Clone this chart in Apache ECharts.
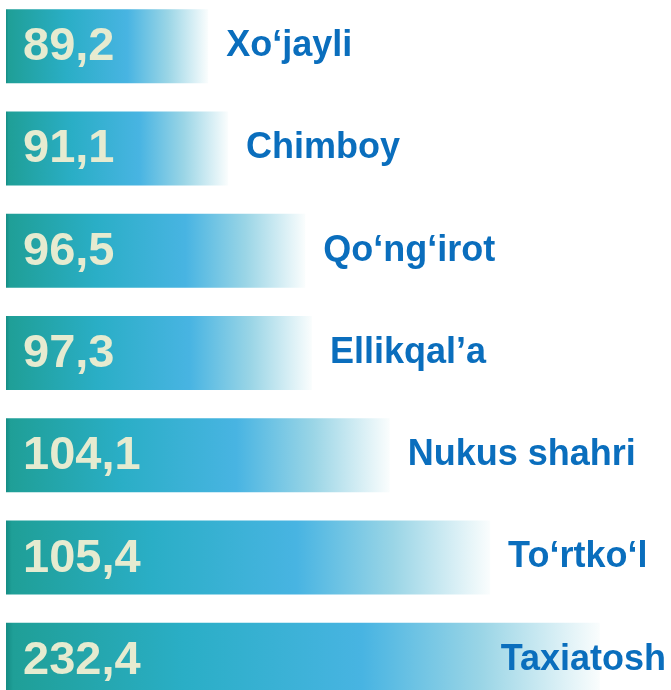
<!DOCTYPE html>
<html>
<head>
<meta charset="utf-8">
<script src="https://cdn.jsdelivr.net/npm/echarts@6/dist/echarts.min.js"></script>
<style>
  html, body { margin: 0; padding: 0; background: #fff; overflow: hidden; }
  /* slightly taller than the window so the last bar is cut off like the original */
  #chart { position: absolute; left: 0; top: -5px; width: 671px; height: 716px; }
</style>
</head>
<body>
<div id="chart"></div>
<script>
// tumanlar (yuqoridan pastga)
var districts = ["Xo‘jayli", "Chimboy", "Qo‘ng‘irot", "Ellikqal’a", "Nukus shahri", "To‘rtko‘l", "Taxiatosh"];
// ko'rsatkich qiymatlari
var values = [89.2, 91.1, 96.5, 97.3, 104.1, 105.4, 232.4];
// ustun uzunligi, rasmdan o'qilgan (qiymatga proporsional emas), 0..100 shkalada
var barLength = [30.4, 33.4, 45, 46, 57.7, 72.8, 89.3];

var chart = echarts.init(document.getElementById("chart"));

var barColor = new echarts.graphic.LinearGradient(0, 0, 1, 0, [
  { offset: 0, color: "#148c84" },
  { offset: 0.012, color: "#1f9f97" },
  { offset: 0.3, color: "#2aaec6" },
  { offset: 0.6, color: "#48b4e2" },
  { offset: 0.8, color: "#9ad5e6" },
  { offset: 1, color: "#fafdfd" }
]);

var option = {
  backgroundColor: "#ffffff",
  animation: false,
  grid: { left: 6, right: 0, top: 0, bottom: 0 },
  xAxis: { type: "value", min: 0, max: 100, show: false },
  yAxis: {
    type: "category",
    inverse: true,
    data: districts,
    show: false
  },
  series: [
    {
      // ustunlar + qiymat yorliqlari
      type: "bar",
      barWidth: 74,
      data: barLength,
      itemStyle: { color: barColor },
      label: {
        show: true,
        position: "insideLeft",
        distance: 17,
        offset: [0, 1],
        color: "#e6ebd0",
        fontFamily: "Liberation Sans, Arial, sans-serif",
        fontWeight: "bold",
        fontSize: 47,
        formatter: function (p) {
          return values[p.dataIndex].toFixed(1).replace(".", ",");
        }
      },
      z: 2
    },
    {
      // tuman nomlari, ustun oxiridan o'ngda
      type: "bar",
      barGap: "-100%",
      barWidth: 74,
      data: barLength,
      itemStyle: { color: "transparent" },
      label: {
        show: true,
        position: "right",
        distance: 18,
        offset: [0, -6],
        color: "#0a6ebd",
        fontFamily: "Liberation Sans, Arial, sans-serif",
        fontWeight: "bold",
        fontSize: 36,
        formatter: function (p) { return districts[p.dataIndex]; }
      },
      labelLayout: function (params) {
        // chart chetidan chiqib ketmasin
        var r = params.labelRect;
        var maxRight = 666;
        if (r.x + r.width > maxRight) {
          return { dx: maxRight - (r.x + r.width) };
        }
        return {};
      },
      z: 3
    }
  ]
};

chart.setOption(option);
</script>
</body>
</html>
